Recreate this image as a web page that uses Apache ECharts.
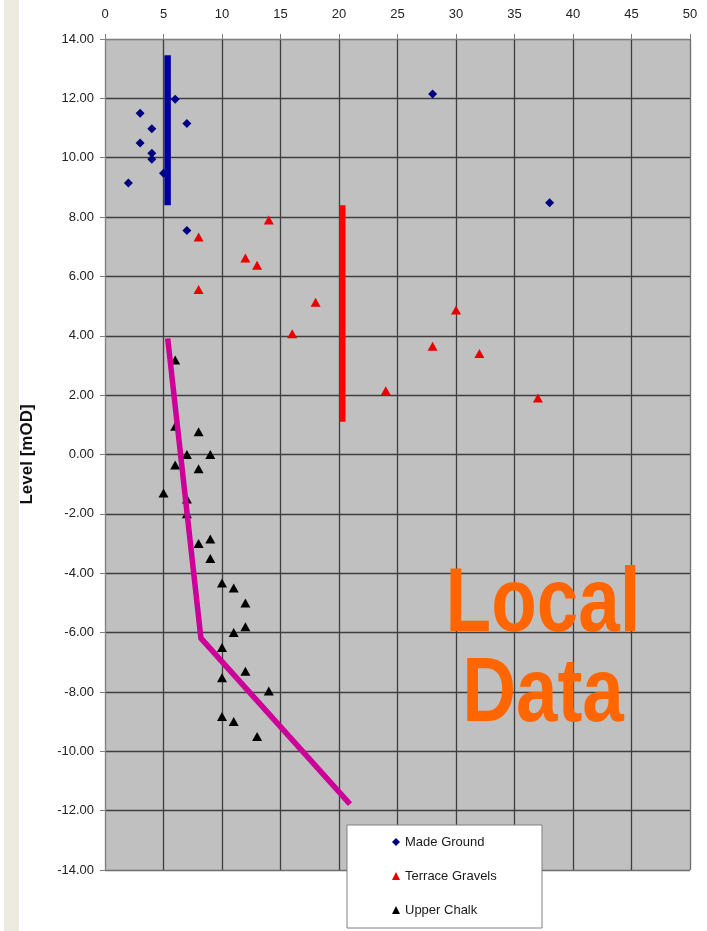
<!DOCTYPE html>
<html>
<head>
<meta charset="utf-8">
<script src="https://cdn.jsdelivr.net/npm/echarts@6/dist/echarts.min.js"></script>
<style>
  html, body { margin: 0; padding: 0; background: #ffffff; }
  #chart { width: 707px; height: 931px; }
</style>
</head>
<body>
<div id="chart"></div>
<script>
// Borehole levels by stratum: [distance, level mOD]
const madeGround = [
  [6, 11.97], [3, 11.5], [7, 11.15], [4, 10.98], [3, 10.5], [4, 10.15],
  [4, 9.95], [5, 9.48], [2, 9.15], [7, 7.55], [28, 12.15], [38, 8.48]
];
const terraceGravels = [
  [8, 7.33], [14, 7.9], [12, 6.62], [13, 6.38], [8, 5.56], [18, 5.13],
  [16, 4.07], [30, 4.87], [28, 3.65], [32, 3.4], [24, 2.15], [37, 1.9]
];
const upperChalk = [
  [6, 3.18], [6, 0.95], [8, 0.77], [7, 0.0], [9, 0.0], [6, -0.35],
  [8, -0.48], [5, -1.3], [7, -1.5], [7, -2.0], [8, -3.0], [9, -2.85],
  [9, -3.5], [10, -4.33], [11, -4.5], [12, -5.0], [12, -5.8], [11, -6.0],
  [10, -6.5], [12, -7.3], [10, -7.52], [14, -7.97], [10, -8.83], [11, -9.0],
  [13, -9.5]
];
// Interpreted ranges / trend
const madeGroundRange = [[5.35, 13.45], [5.35, 8.4]];
const gravelsRange = [[20.3, 8.4], [20.3, 1.1]];
const chalkTrend = [[5.36, 3.91], [8.2, -6.19], [20.94, -11.78]];

const legendNames = ['Made Ground', 'Terrace Gravels', 'Upper Chalk'];
const xTicks = { min: 0, max: 50, step: 5 };
const yTicks = { min: -14, max: 14, step: 2 };

const chart = echarts.init(document.getElementById('chart'), null, { renderer: 'canvas' });

function edgeColors(count, edge, inner) {
  const arr = [];
  for (let i = 0; i < count; i++) arr.push(i === 0 || i === count - 1 ? edge : inner);
  return arr;
}

const FONT = 'Liberation Sans, Arial, sans-serif';

const option = {
  backgroundColor: '#ffffff',
  animation: false,
  grid: {
    left: 105, top: 39, right: 17, bottom: 61,
    show: true, backgroundColor: '#C0C0C0', borderWidth: 0
  },
  xAxis: {
    type: 'value', position: 'top',
    min: xTicks.min, max: xTicks.max, interval: xTicks.step,
    axisLine: { show: true, onZero: false, lineStyle: { color: '#808080', width: 1 } },
    axisTick: { show: true, length: 5, lineStyle: { color: '#808080' } },
    axisLabel: { margin: 18, fontSize: 13, color: '#222', fontFamily: FONT },
    splitLine: { show: true, lineStyle: { color: edgeColors(11, '#6e6e6e', '#3e3e3e'), width: 1.3 } }
  },
  yAxis: {
    type: 'value',
    min: yTicks.min, max: yTicks.max, interval: yTicks.step,
    name: 'Level [mOD]', nameLocation: 'middle', nameGap: 69,
    nameTextStyle: { fontSize: 17, fontWeight: 'bold', color: '#111', fontFamily: FONT },
    axisLine: { show: true, onZero: false, lineStyle: { color: '#808080', width: 1 } },
    axisTick: { show: true, length: 5, lineStyle: { color: '#808080' } },
    axisLabel: {
      margin: 11, fontSize: 13, color: '#222', fontFamily: FONT,
      formatter: v => v.toFixed(2)
    },
    splitLine: { show: true, lineStyle: { color: edgeColors(15, '#6e6e6e', '#3e3e3e'), width: 1.3 } }
  },
  legend: {
    data: legendNames,
    orient: 'vertical',
    left: 347, top: 825,
    backgroundColor: '#ffffff',
    borderColor: '#808080', borderWidth: 1,
    padding: [10, 0, 11, 45],
    itemWidth: 8, itemHeight: 8, itemGap: 20,
    textStyle: { fontSize: 13, lineHeight: 14, color: '#1a1a1a', width: 137, fontFamily: FONT }
  },
  series: [
    {
      name: 'Made Ground', type: 'scatter', data: madeGround,
      symbol: 'diamond', symbolSize: 9,
      itemStyle: { color: '#000080', opacity: 1 }
    },
    {
      name: 'Terrace Gravels', type: 'scatter', data: terraceGravels,
      symbol: 'triangle', symbolSize: [10, 9],
      itemStyle: { color: '#E80000', opacity: 1 }
    },
    {
      name: 'Upper Chalk', type: 'scatter', data: upperChalk,
      symbol: 'triangle', symbolSize: [10, 9],
      itemStyle: { color: '#000000', opacity: 1 }
    },
    {
      name: 'madeGroundRange', type: 'line', data: madeGroundRange,
      symbol: 'none', lineStyle: { color: '#00009C', width: 6.5, cap: 'butt' }, z: 5
    },
    {
      name: 'gravelsRange', type: 'line', data: gravelsRange,
      symbol: 'none', lineStyle: { color: '#FF0000', width: 6, cap: 'butt' }, z: 5
    },
    {
      name: 'chalkTrend', type: 'line', data: chalkTrend,
      symbol: 'none', lineStyle: { color: '#CC0099', width: 5.5, cap: 'butt', join: 'miter' }, z: 5
    }
  ],
  graphic: [
    {
      type: 'rect', left: 4, top: 0, z: -10,
      shape: { width: 15, height: 931 },
      style: { fill: '#EDEAE0' }
    },
    {
      type: 'text', x: 543, y: 606, z: 100, scaleX: 0.82,
      style: {
        text: 'Local', fill: '#FF6600', font: 'bold 91px "Liberation Sans", Arial, sans-serif',
        textAlign: 'center', textVerticalAlign: 'middle'
      }
    },
    {
      type: 'text', x: 543, y: 696, z: 100, scaleX: 0.82,
      style: {
        text: 'Data', fill: '#FF6600', font: 'bold 91px "Liberation Sans", Arial, sans-serif',
        textAlign: 'center', textVerticalAlign: 'middle'
      }
    }
  ]
};

chart.setOption(option);
</script>
</body>
</html>
